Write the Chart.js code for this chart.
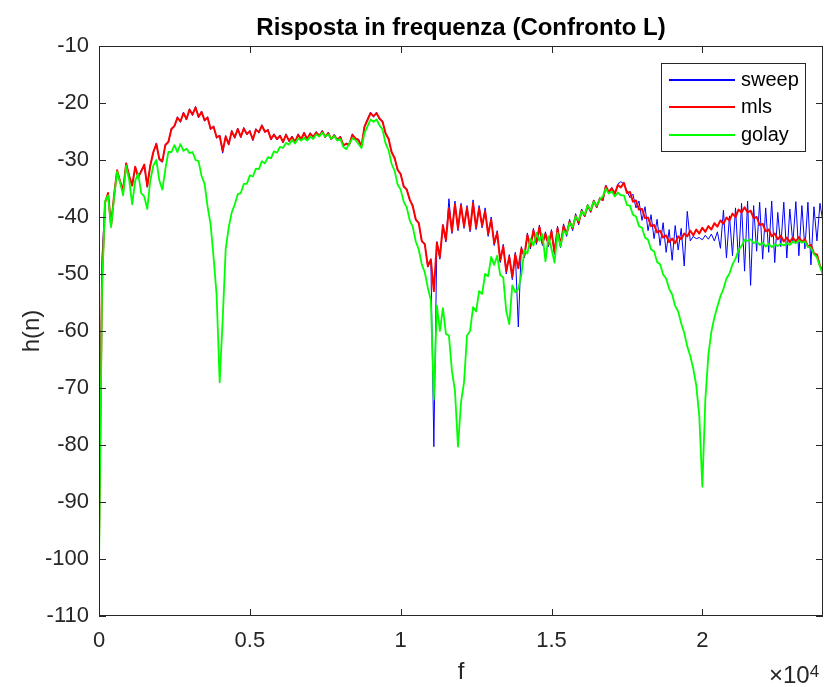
<!DOCTYPE html>
<html>
<head>
<meta charset="utf-8">
<script src="https://cdn.jsdelivr.net/npm/chart.js@4/dist/chart.umd.min.js"></script>
<style>
  html, body { margin: 0; padding: 0; background: #ffffff; }
  canvas { display: block; }
</style>
</head>
<body>
<canvas id="c" width="824" height="687"></canvas>
<script>
// Frequency grid (Hz)
const freq = [
  0,100,200,300,400,500,600,700,800,900,
  1000,1100,1200,1300,1400,1500,1600,1700,1800,1900,
  2000,2100,2200,2300,2400,2500,2600,2700,2800,2900,
  3000,3100,3200,3300,3400,3500,3600,3700,3800,3900,
  4000,4100,4200,4300,4400,4500,4600,4700,4800,4900,
  5000,5100,5200,5300,5400,5500,5600,5700,5800,5900,
  6000,6100,6200,6300,6400,6500,6600,6700,6800,6900,
  7000,7100,7200,7300,7400,7500,7600,7700,7800,7900,
  8000,8100,8200,8300,8400,8500,8600,8700,8800,8900,
  9000,9100,9200,9300,9400,9500,9600,9700,9800,9900,
  10000,10100,10200,10300,10400,10500,10600,10700,10800,10900,
  11000,11100,11200,11300,11400,11500,11600,11700,11800,11900,
  12000,12100,12200,12300,12400,12500,12600,12700,12800,12900,
  13000,13100,13200,13300,13400,13500,13600,13700,13800,13900,
  14000,14100,14200,14300,14400,14500,14600,14700,14800,14900,
  15000,15100,15200,15300,15400,15500,15600,15700,15800,15900,
  16000,16100,16200,16300,16400,16500,16600,16700,16800,16900,
  17000,17100,17200,17300,17400,17500,17600,17700,17800,17900,
  18000,18100,18200,18300,18400,18500,18600,18700,18800,18900,
  19000,19100,19200,19300,19400,19500,19600,19700,19800,19900,
  20000,20100,20200,20300,20400,20500,20600,20700,20800,20900,
  21000,21100,21200,21300,21400,21500,21600,21700,21800,21900,
  22000,22100,22200,22300,22400,22500,22600,22700,22800,22900,
  23000,23100,23200,23300,23400,23500,23600,23700,23800,23900,
  24000
];

// Magnitude response h(n) in dB, sine sweep measurement
const sweep = [
  -98,-47,-37.4,-35.9,-41.6,-36.1,-31.9,-33.7,-35.4,-30.5,
  -32.9,-34.3,-31.3,-33.2,-31.8,-30.9,-34.8,-30.8,-28.8,-27.0,
  -30.0,-30.4,-27.2,-27.0,-24.4,-24.2,-22.4,-23.4,-21.6,-23.0,
  -21.0,-22.2,-20.6,-22.6,-21.4,-23.2,-22.4,-24.7,-24.0,-26.2,
  -25.6,-28.8,-25.7,-27.4,-24.8,-26.2,-24.4,-26.1,-24.3,-25.6,
  -24.8,-26.6,-24.5,-25.3,-23.8,-25.2,-24.6,-26.5,-25.4,-26.5,
  -25.6,-27.0,-25.4,-26.8,-25.8,-27.0,-25.4,-26.5,-25.1,-26.5,
  -25.2,-26.1,-25.0,-25.9,-24.8,-26.1,-25.1,-26.5,-25.5,-26.6,
  -25.8,-27.6,-27.0,-27.4,-25.4,-26.4,-26.3,-27.8,-24.0,-22.8,
  -21.6,-22.5,-21.6,-22.9,-23.1,-25.5,-26.1,-28.8,-29.5,-31.9,
  -32.3,-34.8,-35.0,-37.1,-37.9,-40.6,-40.9,-44.4,-44.6,-48.8,
  -47.3,-80.3,-44.3,-47.4,-41.3,-44.4,-36.8,-42.9,-37.2,-42.4,
  -37.6,-42.0,-38.0,-42.6,-37.0,-42.2,-38.0,-41.9,-38.4,-43.4,
  -40.0,-45.0,-42.4,-48.0,-44.8,-50.0,-46.6,-51.0,-46.2,-59.3,
  -45.2,-47.2,-42.8,-45.6,-42.0,-44.8,-41.4,-45.0,-42.6,-45.2,
  -42.2,-46.6,-41.6,-45.4,-41.2,-43.4,-40.4,-42.4,-39.4,-41.4,
  -38.6,-40.0,-37.8,-39.2,-37.0,-38.4,-36.6,-37.2,-34.4,-35.8,
  -34.8,-36.1,-34.2,-33.8,-34.2,-35.4,-36.6,-36.0,-38.4,-37.2,
  -40.6,-38.2,-42.4,-39.6,-43.8,-40.4,-45.0,-41.0,-46.2,-42.2,
  -47.6,-41.5,-45.8,-42.0,-48.6,-39.0,-44.2,-43.4,-43.8,-43.6,
  -44.0,-43.2,-43.9,-43.0,-44.2,-42.6,-45.5,-38.8,-47.2,-39.8,
  -46.8,-38.4,-48.0,-37.6,-49.5,-37.2,-52.0,-38.0,-46.0,-37.4,
  -47.4,-38.4,-46.2,-37.2,-48.0,-39.2,-45.2,-37.4,-47.2,-38.6,
  -44.6,-37.3,-46.8,-38.0,-45.6,-37.4,-48.4,-38.2,-44.2,-37.6,
  -41.0
];

// MLS measurement
const mls = [
  -97,-51,-37.5,-35.8,-41.5,-36.2,-31.8,-33.8,-35.3,-30.6,
  -32.8,-34.5,-31.2,-33.0,-32.0,-30.8,-34.6,-31.0,-28.6,-27.2,
  -29.8,-30.2,-27.4,-26.8,-24.6,-24.0,-22.6,-23.2,-21.8,-22.8,
  -21.2,-22.0,-20.8,-22.4,-21.6,-23.0,-22.6,-24.5,-24.2,-26.0,
  -25.8,-28.4,-25.9,-27.2,-25.0,-26.0,-24.6,-25.9,-24.5,-25.4,
  -25.0,-26.4,-24.7,-25.1,-24.0,-25.0,-24.8,-26.3,-25.6,-26.3,
  -25.8,-26.8,-25.6,-26.6,-26.0,-26.8,-25.6,-26.3,-25.3,-26.3,
  -25.4,-25.9,-25.2,-25.7,-25.0,-25.9,-25.3,-26.3,-25.7,-26.4,
  -26.0,-27.4,-27.2,-27.2,-25.6,-26.2,-26.5,-27.6,-24.2,-23.0,
  -21.8,-22.3,-21.8,-22.7,-23.3,-25.3,-26.3,-28.6,-29.7,-31.7,
  -32.5,-34.6,-35.2,-36.9,-38.1,-40.4,-41.1,-44.2,-44.8,-48.6,
  -47.5,-53.0,-44.5,-47.0,-41.5,-44.0,-38.5,-42.5,-37.8,-42.0,
  -38.0,-41.6,-38.4,-42.2,-37.6,-41.8,-38.5,-41.5,-39.0,-43.0,
  -40.5,-44.6,-42.8,-47.6,-45.2,-49.5,-47.0,-50.5,-46.6,-49.0,
  -45.6,-46.8,-43.2,-45.2,-42.4,-44.4,-41.8,-44.6,-43.0,-44.8,
  -42.6,-46.2,-42.0,-45.0,-41.6,-43.0,-40.8,-42.0,-39.8,-41.0,
  -38.9,-39.8,-38.0,-39.0,-37.2,-38.2,-36.8,-37.0,-34.6,-35.6,
  -35.0,-35.9,-34.4,-34.8,-34.0,-35.8,-35.6,-37.3,-37.1,-38.7,
  -38.6,-40.2,-40.1,-41.6,-41.4,-42.7,-42.4,-43.6,-43.2,-44.4,
  -43.8,-44.6,-43.4,-43.9,-42.9,-43.4,-42.4,-43.2,-42.2,-42.9,
  -41.9,-42.6,-41.6,-42.2,-41.1,-41.7,-40.6,-41.2,-40.1,-40.6,
  -39.4,-40.0,-38.7,-39.2,-38.3,-39.2,-38.9,-40.2,-40.0,-41.4,
  -41.2,-42.5,-42.2,-43.4,-42.9,-43.9,-43.3,-44.3,-43.6,-44.4,
  -43.6,-44.3,-43.5,-44.4,-43.9,-45.2,-44.9,-46.4,-46.6,-48.6,
  -49.5
];

// Golay complementary sequence measurement
const golay = [
  -101,-53,-37.2,-36.2,-41.8,-36.6,-32.0,-34.0,-36.2,-31.0,
  -33.5,-37.8,-33.6,-32.4,-35.8,-36.4,-38.6,-33.6,-31.0,-30.0,
  -33.6,-35.2,-31.6,-28.6,-28.6,-27.4,-28.6,-27.2,-28.4,-28.0,
  -28.8,-28.6,-30.0,-30.2,-32.8,-34.2,-38.2,-41.3,-47.2,-53.8,
  -69.0,-58.0,-45.6,-41.8,-39.2,-37.8,-36.0,-35.8,-34.2,-34.2,
  -32.7,-32.9,-31.5,-31.6,-30.2,-30.6,-29.5,-29.7,-28.5,-28.7,
  -27.7,-27.9,-27.0,-27.3,-26.5,-27.1,-26.2,-26.6,-26.1,-26.6,
  -25.9,-26.3,-25.5,-25.9,-25.2,-25.9,-25.5,-26.3,-25.8,-26.6,
  -26.3,-27.7,-28.1,-27.1,-26.2,-26.5,-27.2,-27.9,-25.3,-24.1,
  -22.9,-23.3,-22.9,-23.9,-24.7,-27.1,-28.3,-30.7,-31.9,-34.3,
  -35.2,-37.3,-38.3,-40.6,-41.7,-44.3,-45.7,-48.3,-49.7,-52.4,
  -54.6,-72.0,-55.5,-60.0,-56.0,-60.5,-60.8,-67.0,-70.5,-80.3,
  -72.5,-69.0,-60.8,-60.0,-55.8,-56.6,-53.0,-53.5,-50.0,-50.4,
  -47.0,-48.4,-46.8,-50.2,-50.6,-56.5,-58.8,-52.0,-53.2,-52.6,
  -50.2,-45.8,-46.4,-43.8,-45.0,-42.8,-44.2,-43.0,-47.8,-43.4,
  -45.6,-48.0,-42.8,-45.2,-42.4,-43.0,-41.0,-41.8,-39.9,-40.6,
  -39.0,-39.6,-38.0,-38.8,-37.3,-38.0,-36.9,-36.4,-35.0,-35.9,
  -35.5,-36.4,-35.7,-36.2,-36.2,-37.9,-38.0,-39.6,-39.9,-41.6,
  -41.9,-43.6,-44.0,-45.7,-46.0,-47.9,-48.3,-50.1,-50.8,-52.6,
  -53.6,-55.6,-56.6,-58.7,-60.3,-62.7,-64.4,-66.6,-69.6,-75.0,
  -87.3,-72.0,-64.2,-60.1,-57.6,-55.7,-53.9,-52.6,-50.8,-49.9,
  -48.3,-47.3,-45.8,-45.1,-44.0,-44.2,-43.9,-44.6,-44.3,-44.9,
  -44.5,-45.2,-44.7,-45.3,-44.8,-45.1,-44.7,-45.0,-44.6,-44.9,
  -44.3,-44.6,-44.1,-44.5,-44.3,-45.2,-45.4,-46.5,-47.1,-48.7,
  -50.2
];

const seriesNames = ['sweep', 'mls', 'golay'];
const seriesColors = ['#0000ff', '#ff0000', '#00ff00'];
const xTicks = [0, 5000, 10000, 15000, 20000];
const yTicks = [-110, -100, -90, -80, -70, -60, -50, -40, -30, -20, -10];

const FONT = "'Liberation Sans', Arial, Helvetica, sans-serif";
const AXIS_COLOR = '#262626';

const toPoints = arr => freq.map((f, i) => ({ x: f, y: arr[i] }));

// Box, inward tick marks, legend and the x10^4 exponent label
const axesDecor = {
  id: 'axesDecor',
  afterDatasetsDraw(chart) {
    const { ctx, chartArea: a, scales: { x, y } } = chart;
    const tick = 7;
    ctx.save();
    ctx.strokeStyle = AXIS_COLOR;
    ctx.lineWidth = 1;
    ctx.strokeRect(a.left + 0.5, a.top + 0.5, a.right - a.left - 1, a.bottom - a.top - 1);
    ctx.beginPath();
    xTicks.forEach(v => {
      const px = Math.round(x.getPixelForValue(v)) + 0.5;
      ctx.moveTo(px, a.bottom); ctx.lineTo(px, a.bottom - tick);
      ctx.moveTo(px, a.top); ctx.lineTo(px, a.top + tick);
    });
    yTicks.forEach(v => {
      const py = Math.round(y.getPixelForValue(v)) + 0.5;
      ctx.moveTo(a.left, py); ctx.lineTo(a.left + tick, py);
      ctx.moveTo(a.right, py); ctx.lineTo(a.right - tick, py);
    });
    ctx.stroke();

    // legend
    const lx = 661, ly = 63, lw = 144, lh = 88;
    ctx.fillStyle = '#ffffff';
    ctx.fillRect(lx, ly, lw, lh);
    ctx.strokeStyle = AXIS_COLOR;
    ctx.strokeRect(lx + 0.5, ly + 0.5, lw, lh);
    const rows = [80, 107, 135];
    ctx.font = '20px ' + FONT;
    ctx.textAlign = 'left';
    ctx.textBaseline = 'middle';
    seriesNames.forEach((name, i) => {
      ctx.fillStyle = seriesColors[i];
      ctx.fillRect(669, rows[i] - 1, 66, 2);
      ctx.fillStyle = '#000000';
      ctx.fillText(name, 741, rows[i]);
    });

    // exponent of the x axis
    ctx.fillStyle = AXIS_COLOR;
    ctx.textBaseline = 'alphabetic';
    ctx.font = '24px ' + FONT;
    const base = '\u00d710';
    ctx.fillText(base, 769, 683);
    const w = ctx.measureText(base).width;
    ctx.font = '17px ' + FONT;
    ctx.fillText('4', 769 + w, 677);
    ctx.restore();
  }
};

new Chart(document.getElementById('c'), {
  type: 'line',
  data: {
    datasets: [
      { label: seriesNames[0], data: toPoints(sweep), borderColor: seriesColors[0], borderWidth: 1, order: 2 },
      { label: seriesNames[1], data: toPoints(mls), borderColor: seriesColors[1], borderWidth: 2, order: 1 },
      { label: seriesNames[2], data: toPoints(golay), borderColor: seriesColors[2], borderWidth: 1.8, order: 0 }
    ]
  },
  options: {
    responsive: false,
    animation: false,
    devicePixelRatio: 1,
    layout: { padding: { left: 0, right: 1, top: 0, bottom: 0 } },
    elements: {
      line: { tension: 0, fill: false, borderJoinStyle: 'round' },
      point: { radius: 0, hoverRadius: 0 }
    },
    plugins: {
      legend: { display: false },
      tooltip: { enabled: false },
      title: {
        display: true,
        fullSize: false,
        text: 'Risposta in frequenza (Confronto L)',
        color: '#000000',
        font: { family: FONT, size: 24, weight: 'bold' },
        padding: { top: 13.6, bottom: 3.6 }
      }
    },
    scales: {
      x: {
        type: 'linear',
        min: 0,
        max: 24000,
        afterBuildTicks: s => { s.ticks = xTicks.map(v => ({ value: v })); },
        afterFit: s => { s.height = 71; },
        grid: { display: false, drawTicks: false },
        border: { display: false },
        ticks: {
          padding: 12,
          color: AXIS_COLOR,
          maxRotation: 0,
          autoSkip: false,
          font: { family: FONT, size: 22 },
          callback: v => String(v / 10000)
        },
        title: {
          display: true,
          text: 'f',
          color: AXIS_COLOR,
          font: { family: FONT, size: 24 },
          padding: { top: 0, bottom: 0 }
        }
      },
      y: {
        type: 'linear',
        min: -110,
        max: -10,
        afterBuildTicks: s => { s.ticks = yTicks.map(v => ({ value: v })); },
        afterFit: s => { s.width = 99; },
        grid: { display: false, drawTicks: false },
        border: { display: false },
        ticks: {
          padding: 10,
          color: AXIS_COLOR,
          font: { family: FONT, size: 22 },
          callback: v => String(v)
        },
        title: {
          display: true,
          text: 'h(n)',
          color: AXIS_COLOR,
          font: { family: FONT, size: 24 },
          padding: { top: 18, bottom: 0 }
        }
      }
    }
  },
  plugins: [axesDecor]
});
</script>
</body>
</html>
